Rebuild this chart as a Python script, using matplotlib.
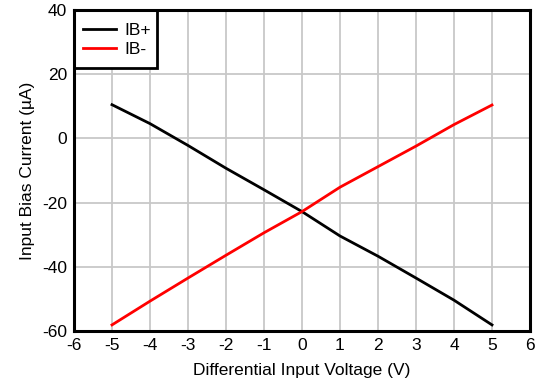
import numpy as np
import matplotlib.pyplot as plt
from matplotlib.patches import Rectangle

plt.rcParams['font.family'] = ['Liberation Sans', 'DejaVu Sans']
plt.rcParams['axes.unicode_minus'] = False

vdiff = [-5, -4, -3, -2, -1, 0, 1, 2, 3, 4, 5]
ib_plus = [10.5, 4.6, -2.2, -9.3, -16.0, -22.8, -30.4, -36.7, -43.5, -50.4, -58.1]
ib_minus = [-58.1, -50.7, -43.5, -36.4, -29.4, -22.8, -15.2, -8.8, -2.4, 4.3, 10.4]

fig = plt.figure(figsize=(5.39, 3.81), dpi=100)
ax = fig.add_axes([74/539, 50/381, 456/539, 321/381])

ax.plot(vdiff, ib_plus, color='black', lw=2, label='IB+')
ax.plot(vdiff, ib_minus, color='#ff0000', lw=2, label='IB-')

ax.set_xlim(-6, 6)
ax.set_ylim(-60, 40)
ax.set_xticks(np.arange(-6, 7, 1))
ax.set_yticks(np.arange(-60, 41, 20))
ax.grid(True, color='#c8c8c8', lw=1.3)
ax.set_axisbelow(True)
ax.tick_params(length=0, labelsize=12.5, pad=5)
for s in ax.spines.values():
    s.set_linewidth(2.2)
    s.set_zorder(5)

ax.set_xlabel('Differential Input Voltage (V)', fontsize=12.5, labelpad=7)
ax.set_ylabel('Input Bias Current (µA)', fontsize=12.5, labelpad=5)

# legend box drawn separately (taller padding than matplotlib allows)
box = Rectangle((0, 1 - 58/321), 83/456, 58/321, transform=ax.transAxes,
                facecolor='white', edgecolor='black', lw=2, zorder=4)
ax.add_patch(box)
leg = ax.legend(loc='upper left', bbox_to_anchor=(9/456, 1 - 13/321), borderaxespad=0,
                frameon=False, fontsize=12.5, handlelength=1.9, borderpad=0,
                labelspacing=0.22, handletextpad=0.5)
leg.set_zorder(6)

plt.savefig('out.png', dpi=100)
